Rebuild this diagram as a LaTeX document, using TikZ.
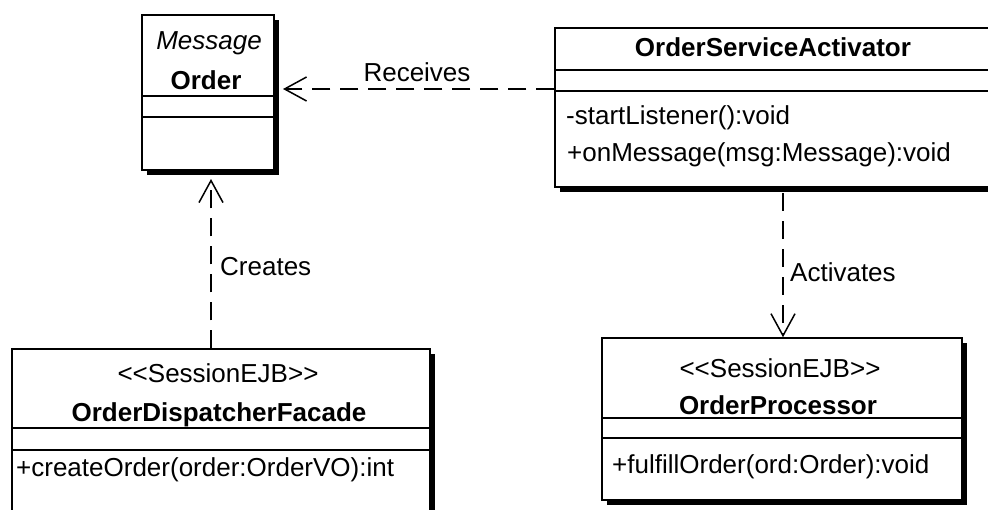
\documentclass[tikz,border=0pt]{standalone}
\usepackage{fontspec}
\newfontfamily\umlfont{Liberation Sans}
\usetikzlibrary{arrows.meta,shadows}
\tikzset{
  classbox/.style={draw=black, line width=1.5pt, fill=white, rectangle, inner sep=0pt,
    drop shadow={shadow xshift=5pt, shadow yshift=-5pt, fill=black, opacity=1}},
  txt/.style={inner sep=0pt, font=\umlfont\fontsize{26}{30}\selectfont},
  btxt/.style={txt, font=\umlfont\fontsize{26}{30}\selectfont\bfseries},
  itxt/.style={txt, font=\umlfont\fontsize{26}{30}\selectfont\itshape},
  sep/.style={line width=1.5pt},
  dep/.style={line width=1.5pt, dash pattern=on 18pt off 10pt,
    -{Straight Barb[length=22pt,width=24pt,line width=1.5pt]}}
}
\begin{document}
\begin{tikzpicture}[x=1pt,y=-1pt]
\useasboundingbox (0,0) rectangle (988,509);
\clip (0,0) rectangle (988,509);
\fill[white] (0,0) rectangle (988,509);

% Order
\node[classbox, minimum width=132pt, minimum height=155pt] (order) at (208,92.5) {};
\draw[sep] (order.west |- 0,96) -- (order.east |- 0,96);
\draw[sep] (order.west |- 0,117) -- (order.east |- 0,117);
\node[itxt] (ordst) at (209,43) {Message};
\node[btxt] (ordname) at (206,80) {Order};

% OrderServiceActivator
\node[classbox, minimum width=436pt, minimum height=159pt] (osa) at (773,107.5) {};
\draw[sep] (osa.west |- 0,70) -- (osa.east |- 0,70);
\draw[sep] (osa.west |- 0,91) -- (osa.east |- 0,91);
\node[btxt] (osaname) at (773,47) {OrderServiceActivator};
\node[txt, anchor=west] (osam1) at (566,118) {-startListener():void};
\node[txt, anchor=west] (osam2) at (567,155) {+onMessage(msg:Message):void};

% OrderDispatcherFacade
\node[classbox, minimum width=418pt, minimum height=171pt] (odf) at (221,434.5) {};
\draw[sep] (odf.west |- 0,428) -- (odf.east |- 0,428);
\draw[sep] (odf.west |- 0,450) -- (odf.east |- 0,450);
\node[txt] (odfst) at (218,373) {<<SessionEJB>>};
\node[btxt] (odfname) at (219,415) {OrderDispatcherFacade};
\node[txt, anchor=west] (odfm1) at (16,470) {+createOrder(order:OrderVO):int};

% OrderProcessor
\node[classbox, minimum width=360pt, minimum height=162pt] (op) at (782,419) {};
\draw[sep] (op.west |- 0,418) -- (op.east |- 0,418);
\draw[sep] (op.west |- 0,438) -- (op.east |- 0,438);
\node[txt] (opst) at (780,368) {<<SessionEJB>>};
\node[btxt] (opname) at (778,405) {OrderProcessor};
\node[txt, anchor=west] (opm1) at (612,467) {+fulfillOrder(ord:Order):void};

% connectors
\coordinate (recvTip) at (283,89);
\coordinate (creTip) at (211,179);
\coordinate (actStart) at (783,193);
\draw[dep] (osa.west |- recvTip) -- (recvTip);
\draw[dep] (odf.north -| creTip) -- (creTip);
\draw[dep] (actStart) -- (op.north -| actStart);

\node[txt] (lrecv) at (417,72) {Receives};
\node[txt, anchor=west] (lcre) at (220,267) {Creates};
\node[txt, anchor=west] (lact) at (790,272) {Activates};
\end{tikzpicture}
\end{document}
